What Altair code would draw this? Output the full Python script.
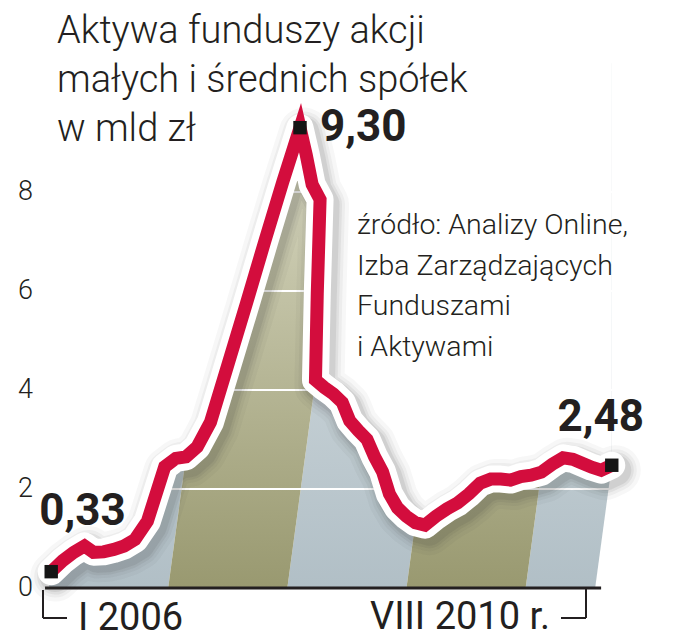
import altair as alt
import pandas as pd

# ---------------- data ----------------
start_month = "2006-01"
values = [0.33, 0.55, 0.72, 0.85, 0.72, 0.73, 0.78, 0.85, 0.98, 1.35,
          2.45, 2.62, 2.65, 2.85, 3.35, 4.55, 5.75, 7.00, 8.20, 9.30,
          8.75, 8.15, 7.85, 5.95, 4.20, 4.05, 3.92, 3.75, 3.38, 3.18,
          3.00, 2.65, 2.35, 1.90, 1.62, 1.45, 1.32, 1.27, 1.45, 1.60,
          1.72, 1.90, 2.12, 2.20, 2.20, 2.18, 2.25, 2.28, 2.34, 2.50,
          2.63, 2.60, 2.52, 2.44, 2.38, 2.48]
band_start = [0, 12, 24, 36, 48]
band_end = [12, 24, 36, 48, 55]
band_kind = ["blue", "olive", "blue", "olive", "blue"]
highlight_months = [0, 19, 55]
grid_values = [2, 4, 6, 8]
tick_values = [0, 2, 4, 6, 8]
title_text = "Aktywa funduszy akcji\nmałych i średnich spółek\nw mld zł"
source_text = "źródło: Analizy Online,\nIzba Zarządzających\nFunduszami\ni Aktywami"
x_label_first = "I 2006"
x_label_last = "VIII 2010 r."

# ---------------- layout / style ----------------
SHEAR = 0.675          # perspective slant of the drawing (months per unit)
W, H = 660, 628
XMIN, XMAX = -3.9275, 62.538
YMIN, YMAX = -1.010, 11.677
BAND_TOP = 10.6
RED = "#d30d3d"
INK = "#231f20"

series = pd.DataFrame({
    "m": list(range(len(values))),
    "v": values,
    "month": pd.period_range(start_month, periods=len(values), freq="M").astype(str),
})

rows = []
for i, (s, e, k) in enumerate(zip(band_start, band_end, band_kind)):
    for vv in (0.0, BAND_TOP):
        rows.append({"band": i, "kind": k, "s": s, "e": e, "vv": vv})
bands = pd.DataFrame(rows)

hl = series[series["m"].isin(highlight_months)].copy()
hl["label"] = hl["v"].map(lambda v: f"{v:.2f}".replace(".", ","))

xscale = alt.Scale(domain=[XMIN, XMAX], nice=False, zero=False)
yscale = alt.Scale(domain=[YMIN, YMAX], nice=False, zero=False)


def X(f):
    return alt.X(f, type="quantitative", scale=xscale, axis=None)


def Y(f):
    return alt.Y(f, type="quantitative", scale=yscale, axis=None)


def grad(c0, c1):
    return alt.Gradient(gradient="linear", x1=0, y1=1, x2=0, y2=0,
                        stops=[alt.GradientStop(color=c0, offset=0),
                               alt.GradientStop(color=c1, offset=1)])


colors = {"blue": grad("#b1bfc6", "#e2e8ea"), "olive": grad("#999970", "#e2e2cf")}

layers = []
for kind in ["blue", "olive"]:
    layers.append(
        alt.Chart(bands).transform_filter(alt.datum.kind == kind)
        .transform_calculate(xa=f"datum.s + {SHEAR} * datum.vv",
                             xb=f"datum.e + {SHEAR} * datum.vv")
        .mark_area(orient="horizontal", color=colors[kind])
        .encode(y=Y("vv"), x=X("xa"), x2=alt.X2("xb:Q"), detail="band:N")
    )

sheared = alt.Chart(series).transform_calculate(
    xd=f"datum.m + {SHEAR} * datum.v", top=f"{YMAX}", right=f"{XMAX}")

# white mask above the line
layers.append(
    sheared.mark_area(color="white", orient="vertical")
    .encode(x=X("xd"), y=Y("v"), y2=alt.Y2("top:Q"))
)
# white mask right of the last point
layers.append(
    sheared.transform_filter(alt.datum.m == len(values) - 1)
    .mark_rect(color="white")
    .encode(x=X("xd"), x2=alt.X2("right:Q"), y=Y("v"), y2=alt.Y2("top:Q"))
)
# grid lines
layers.append(
    alt.Chart(pd.DataFrame({"g": grid_values, "x0": 0.0, "x1": 57.0}))
    .mark_rule(color="white", strokeWidth=2)
    .encode(y=Y("g"), x=X("x0"), x2=alt.X2("x1:Q"))
)
# baseline (x axis)
layers.append(
    alt.Chart(pd.DataFrame({"z": [0.0], "x0": [-0.4], "x1": [55.6]}))
    .mark_rule(color=INK, strokeWidth=3)
    .encode(y=Y("z"), x=X("x0"), x2=alt.X2("x1:Q"))
)
# shadow
shadow = sheared.transform_calculate(xs=f"datum.m + {SHEAR} * datum.v + 0.4", vs="datum.v - 0.1")
for w, op in [(50, 0.04), (42, 0.05), (36, 0.07), (31, 0.09)]:
    layers.append(
        shadow.mark_line(color="#333333", opacity=op, strokeWidth=w, strokeJoin="round", strokeCap="round")
        .encode(x=X("xs"), y=Y("vs"), order="m:Q")
    )
# white outline + red line
layers.append(
    sheared.mark_line(color="white", strokeWidth=27, strokeJoin="round", strokeCap="round")
    .encode(x=X("xd"), y=Y("v"), order="m:Q")
)
layers.append(
    sheared.mark_line(color=RED, strokeWidth=13, strokeJoin="miter", strokeCap="butt")
    .encode(x=X("xd"), y=Y("v"), order="m:Q")
)
# markers
hl_chart = alt.Chart(hl).transform_calculate(xd=f"datum.m + {SHEAR} * datum.v")
layers.append(
    hl_chart.mark_square(size=180, color="#151515", opacity=1, filled=True)
    .encode(x=X("xd"), y=Y("v"))
)
# value labels
label_style = dict(font="Roboto", fontWeight="bold", fontSize=44, color=INK, baseline="middle")
for m, dx, dy, align in [(highlight_months[0], -12, -60, "left"),
                         (highlight_months[1], 20, 0, "left"),
                         (highlight_months[2], -11, -47, "center")]:
    layers.append(
        hl_chart.transform_filter(alt.datum.m == m)
        .mark_text(dx=dx, dy=dy, align=align, **label_style)
        .encode(x=X("xd"), y=Y("v"), text="label:N")
    )
# y tick labels
layers.append(
    alt.Chart(pd.DataFrame({"t": tick_values}))
    .mark_text(align="right", baseline="middle", font="Roboto", fontWeight=300, fontSize=27, color=INK)
    .encode(x=alt.value(23), y=Y("t"), text="t:Q")
)
one = pd.DataFrame({"a": [0]})
# title and source
layers.append(
    alt.Chart(pd.DataFrame({"t": [title_text]}))
    .mark_text(align="left", baseline="alphabetic", lineBreak="\n", lineHeight=49,
               font="Roboto", fontWeight=300, fontSize=38, color=INK)
    .encode(x=alt.value(47), y=alt.value(33), text="t:N")
)
layers.append(
    alt.Chart(pd.DataFrame({"t": [source_text]}))
    .mark_text(align="left", baseline="alphabetic", lineBreak="\n", lineHeight=40.5,
               font="Roboto", fontWeight=300, fontSize=28.5, color=INK)
    .encode(x=alt.value(347), y=alt.value(224), text="t:N")
)
# x labels
xl_style = dict(align="left", baseline="alphabetic", font="Roboto", fontWeight=400, fontSize=38, color=INK)
layers.append(
    alt.Chart(pd.DataFrame({"t": [x_label_first]})).mark_text(**xl_style)
    .encode(x=alt.value(68), y=alt.value(620), text="t:N")
)
layers.append(
    alt.Chart(pd.DataFrame({"t": [x_label_last]})).mark_text(**xl_style)
    .encode(x=alt.value(360), y=alt.value(619), text="t:N")
)
# brackets
br = dict(color=INK, strokeWidth=2)
layers.append(alt.Chart(one).mark_rule(**br).encode(x=alt.value(33), y=alt.value(580), y2=alt.value(608)))
layers.append(alt.Chart(one).mark_rule(**br).encode(x=alt.value(33), x2=alt.value(57), y=alt.value(608)))
layers.append(alt.Chart(one).mark_rule(**br).encode(x=alt.value(576), y=alt.value(579), y2=alt.value(608)))
layers.append(alt.Chart(one).mark_rule(**br).encode(x=alt.value(551), x2=alt.value(576), y=alt.value(608)))

chart = alt.layer(*layers).properties(
    width=W, height=H,
    padding={"left": 2, "top": 2, "right": 0, "bottom": 0},
    autosize=alt.AutoSizeParams(type="none"),
    background="white",
).configure_view(stroke=None)

chart.save("out.html", embed_options={"renderer": "svg", "actions": False})
